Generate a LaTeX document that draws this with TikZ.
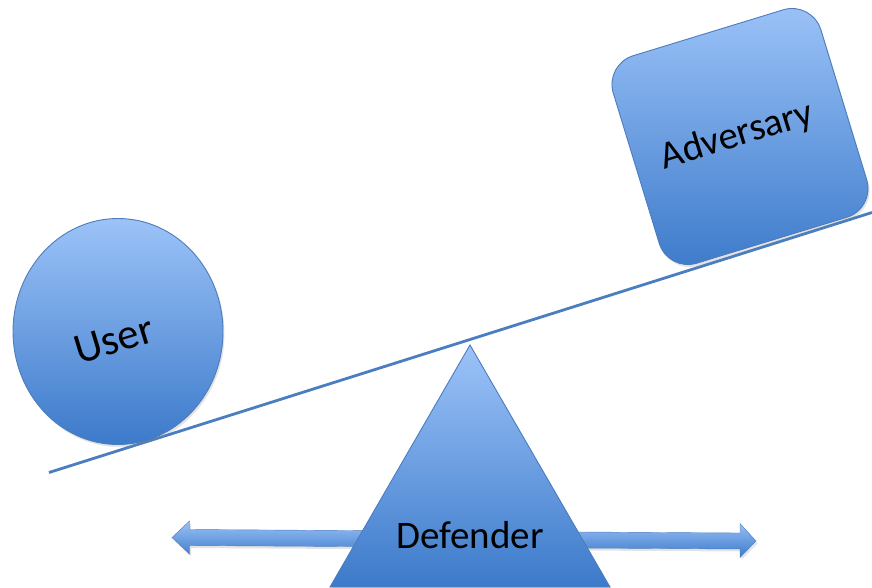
\documentclass[tikz,border=0pt]{standalone}
\usepackage{fontspec}
\setmainfont{Carlito}
\usetikzlibrary{shapes.geometric,shadows}
\definecolor{shapetop}{RGB}{156,195,248}
\definecolor{shapebot}{RGB}{60,122,202}
\definecolor{shapeline}{RGB}{76,124,190}
\definecolor{beamcol}{RGB}{74,126,193}
\tikzset{
  blueshape/.style={draw=shapeline, line width=0.9pt, top color=shapetop, bottom color=shapebot,
    drop shadow={opacity=0.22, shadow xshift=1.5pt, shadow yshift=-2.5pt}},
  bigtext/.style={font=\fontsize{39}{47}\selectfont, text=black, inner sep=0pt},
  usertextstyle/.style={font=\fontsize{43}{51}\selectfont, text=black, inner sep=0pt},
  beam/.style={draw=beamcol, line width=2.8pt},
}
\begin{document}
\begin{tikzpicture}[x=1pt,y=-1pt]
\useasboundingbox (0,0) rectangle (872,587);
% double arrow behind the triangle
\coordinate (lt) at (172,537.5);
\coordinate (rt) at (756,541);
\path[blueshape, line width=0.4pt]
  (lt) -- (189.5,521) -- (189.5,529.5) -- (740,533) -- (740,523.5) -- (rt)
  -- (740,557.5) -- (740,549) -- (189.5,545.5) -- (189.5,554) -- cycle;
% beam
\coordinate (bl) at (49,472.5);
\coordinate (br) at (872,212.5);
\draw[beam] (bl) -- (br);
% user
\node[blueshape, ellipse, minimum width=210pt, minimum height=226pt, inner sep=0pt] (user) at (118,331.5) {};
\node[usertextstyle, anchor=base, rotate=17] (usertext) at (118,353) {User};
% adversary
\node[blueshape, rectangle, rounded corners=30pt, minimum size=217pt, inner sep=0pt, rotate=17] (adv) at (740,136.5) {};
\node[bigtext, anchor=base, rotate=17] (advtext) at (740,146) {Adversary};
% defender triangle
\coordinate (apex) at (470,345);
\coordinate (bright) at (610,587);
\coordinate (bleft) at (330,587);
\path[blueshape] (apex) -- (bright) -- (bleft) -- cycle;
\node[bigtext, anchor=base] (deftext) at (470,548) {Defender};
\end{tikzpicture}
\end{document}
